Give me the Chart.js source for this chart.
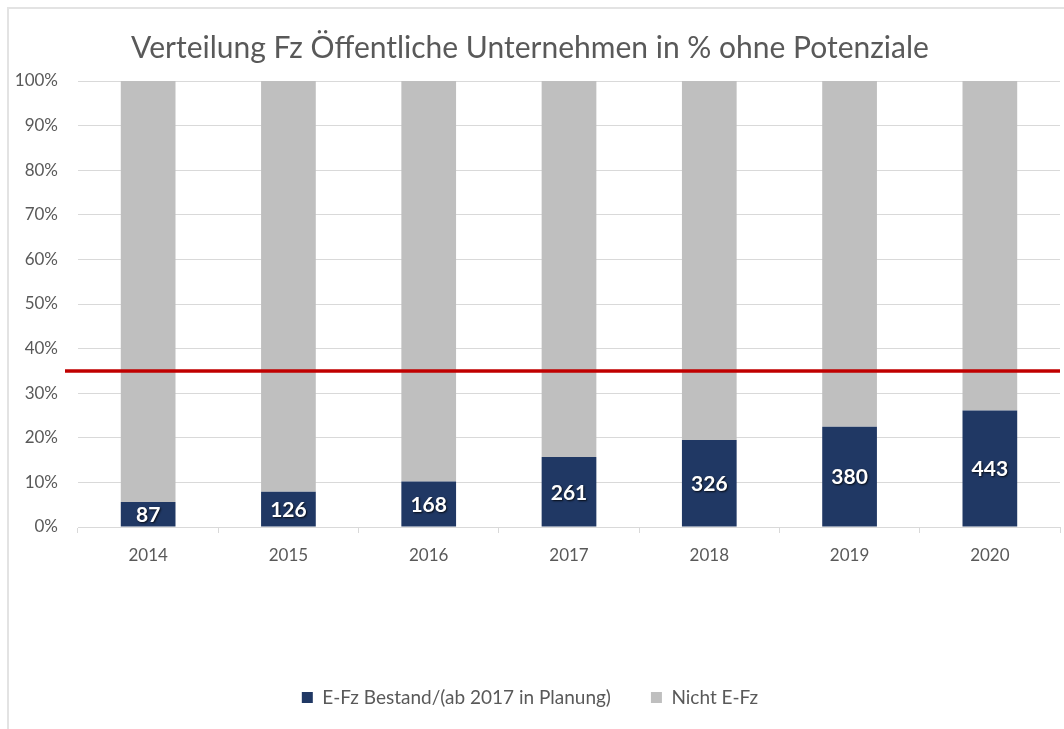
<!DOCTYPE html>
<html>
<head>
<meta charset="utf-8">
<script src="https://cdn.jsdelivr.net/npm/chart.js@4/dist/chart.umd.min.js"></script>
<style>
    body { margin: 0; background: #fff; }
    #wrap { position: relative; width: 1064px; height: 729px; }
    #frame { position: absolute; left: 7px; top: 7px; width: 1070px; height: 730px;
             border-left: 2px solid #e3e3e3; border-top: 2px solid #e3e3e3; pointer-events: none; }
</style>
</head>
<body>
<div id="wrap">
    <canvas id="fz-chart" width="1064" height="729"></canvas>
    <div id="frame"></div>
</div>
<script>
const years = ['2014', '2015', '2016', '2017', '2018', '2019', '2020'];
// share of E-Fz in %
const efzShare = [5.6, 7.9, 10.2, 15.7, 19.5, 22.5, 26.1];
const nichtShare = [94.4, 92.1, 89.8, 84.3, 80.5, 77.5, 73.9];
// vehicle counts printed inside the blue bars
const efzCount = [87, 126, 168, 261, 326, 380, 443];
const targetLine = 35;

const fontFamily = 'Lato, "Open Sans", sans-serif';
const textColor = '#595959';
const gridColor = '#d9d9d9';

const barLabels = {
    id: 'barLabels',
    afterDatasetsDraw(chart) {
        const ctx = chart.ctx;
        const meta = chart.getDatasetMeta(0);
        ctx.save();
        ctx.font = 'bold 21px ' + fontFamily;
        ctx.textAlign = 'center';
        ctx.textBaseline = 'middle';
        ctx.shadowColor = 'rgba(0,0,0,0.8)';
        ctx.shadowOffsetX = 1;
        ctx.shadowOffsetY = 1;
        ctx.shadowBlur = 2;
        ctx.fillStyle = '#ffffff';
        meta.data.forEach((bar, i) => {
            const mid = (bar.y + bar.base) / 2;
            ctx.fillText(String(efzCount[i]), bar.x, mid + 1);
        });
        ctx.restore();
    }
};

const redLine = {
    id: 'redLine',
    afterDatasetsDraw(chart) {
        const ctx = chart.ctx;
        const y = chart.scales.y.getPixelForValue(targetLine);
        ctx.save();
        ctx.strokeStyle = '#c00000';
        ctx.lineWidth = 3.5;
        ctx.beginPath();
        ctx.moveTo(chart.chartArea.left - 13, y);
        ctx.lineTo(chart.chartArea.right, y);
        ctx.stroke();
        ctx.restore();
    }
};

const ctx = document.getElementById('fz-chart').getContext('2d');

new Chart(ctx, {
    type: 'bar',
    data: {
        labels: years,
        datasets: [
            {
                label: 'E-Fz Bestand/(ab 2017 in Planung)',
                data: efzShare,
                backgroundColor: '#203864',
                barPercentage: 0.39,
                categoryPercentage: 1.0,
            },
            {
                label: 'Nicht E-Fz',
                data: nichtShare,
                backgroundColor: '#bfbfbf',
                barPercentage: 0.39,
                categoryPercentage: 1.0,
            }
        ]
    },
    options: {
        responsive: false,
        animation: false,
        layout: {
            padding: { left: 0, right: 4, top: 0, bottom: 12 }
        },
        plugins: {
            title: {
                display: true,
                text: 'Verteilung Fz Öffentliche Unternehmen in % ohne Potenziale',
                color: textColor,
                font: { family: fontFamily, size: 30, weight: 'normal' },
                padding: { top: 30, bottom: 15 }
            },
            legend: {
                position: 'bottom',
                labels: {
                    color: textColor,
                    font: { family: fontFamily, size: 19 },
                    boxWidth: 11,
                    boxHeight: 11,
                    padding: 40,
                }
            },
            tooltip: { enabled: false }
        },
        scales: {
            x: {
                stacked: true,
                grid: {
                    display: true,
                    drawOnChartArea: false,
                    drawTicks: true,
                    tickLength: 6,
                    color: gridColor,
                    offset: true,
                },
                border: { display: true, color: gridColor, width: 1 },
                ticks: {
                    color: textColor,
                    font: { family: fontFamily, size: 17 },
                    padding: 12,
                },
                afterFit: (scale) => { scale.height = 121; }
            },
            y: {
                stacked: true,
                min: 0,
                max: 100,
                grid: {
                    color: gridColor,
                    drawTicks: false,
                },
                border: { display: false },
                ticks: {
                    stepSize: 10,
                    color: textColor,
                    font: { family: fontFamily, size: 17 },
                    padding: 20,
                    callback: (v) => v + '%'
                },
                afterFit: (scale) => { scale.width = 78; }
            }
        }
    },
    plugins: [barLabels, redLine]
});
</script>
</body>
</html>
